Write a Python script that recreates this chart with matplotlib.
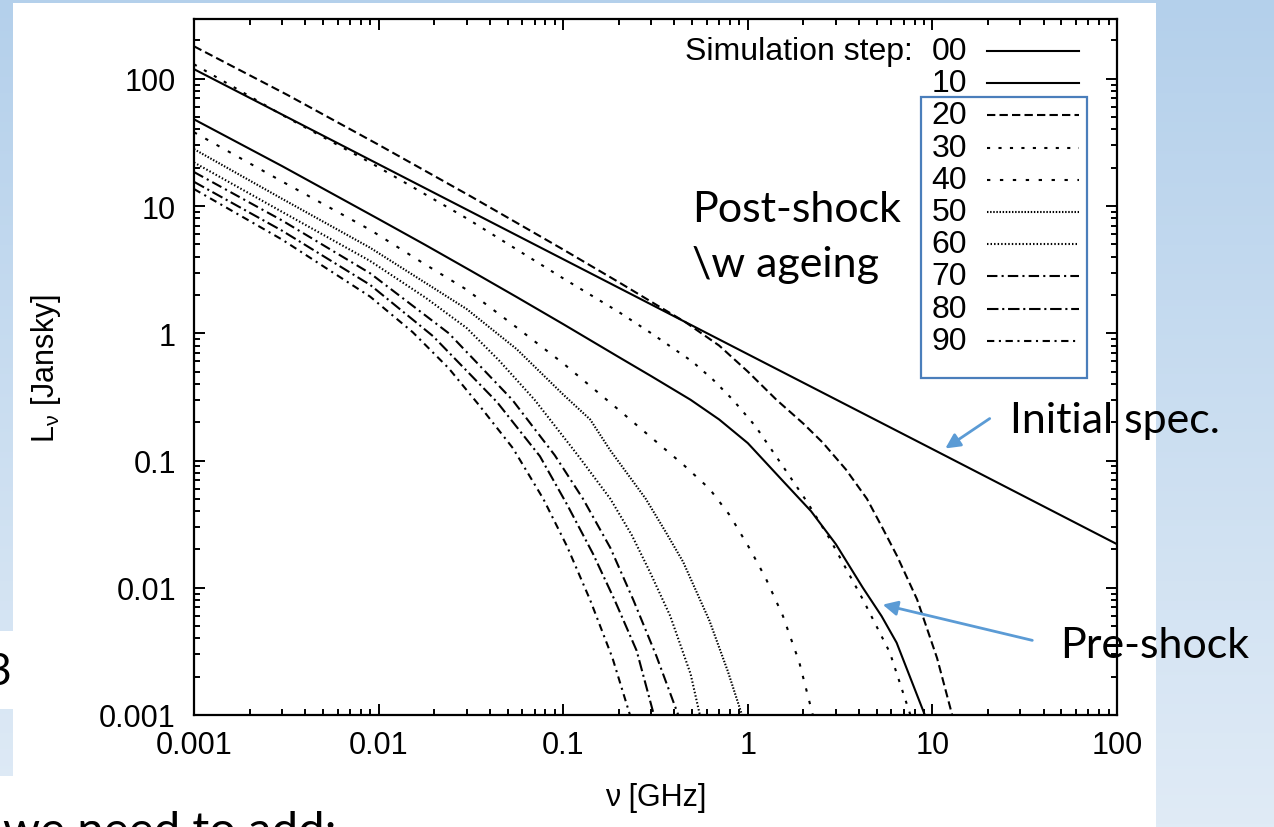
import numpy as np
import matplotlib
matplotlib.use('Agg')
import matplotlib.pyplot as plt
from matplotlib.patches import Rectangle, FancyArrowPatch
from matplotlib.lines import Line2D
from matplotlib.ticker import LogLocator, FuncFormatter, NullFormatter

W, H = 1274, 828

# spectra: nu [GHz] -> L_nu [Jy]
steps = ['00', '10', '20', '30', '40', '50', '60', '70', '80', '90']

nu_00 = [0.001, 0.01, 0.1, 1, 10, 100]
L_00 = [119, 21.3, 3.82, 0.685, 0.123, 0.022]

nu_10 = [0.001, 0.003, 0.01, 0.0178, 0.0316, 0.0562, 0.1, 0.2, 0.3, 0.49, 0.7, 1.0,
         1.55, 2.2, 3.0, 4.2, 5.3, 6.4, 9.1]
L_10 = [48, 20.6, 7.9, 4.97, 3.1, 1.92, 1.18, 0.65, 0.46, 0.30, 0.21, 0.137,
        0.069, 0.040, 0.022, 0.0100, 0.0060, 0.0037, 0.001]

nu_20 = [0.001, 0.0032, 0.01, 0.0316, 0.1, 0.2, 0.316, 0.46, 0.7, 1.0, 1.43, 2.0,
         2.55, 3.4, 4.42, 5.4, 6.43, 8.26, 10.6, 12.8]
L_20 = [180, 74.8, 30.3, 11.9, 4.55, 2.52, 1.69, 1.22, 0.80, 0.50, 0.30, 0.195,
        0.138, 0.085, 0.05, 0.029, 0.0178, 0.0081, 0.0028, 0.001]

nu_30 = [0.001, 0.003, 0.009, 0.03, 0.1, 0.2, 0.3, 0.5, 0.65, 0.83, 1.1, 1.55,
         2.1, 2.79, 4.2, 5.88, 7.6]
L_30 = [130, 52, 22, 8.0, 2.7, 1.47, 1.0, 0.6, 0.43, 0.30, 0.186, 0.090,
        0.047, 0.024, 0.0081, 0.0031, 0.001]

nu_40 = [0.001, 0.003, 0.009, 0.0178, 0.03, 0.056, 0.1, 0.2, 0.32, 0.45, 0.62, 0.8,
         1.03, 1.25, 1.55, 1.9, 2.25]
L_40 = [38, 15.6, 6.5, 3.49, 2.2, 1.11, 0.58, 0.25, 0.14, 0.092, 0.06, 0.037,
        0.020, 0.0119, 0.006, 0.0026, 0.001]

nu_50 = [0.001, 0.003, 0.009, 0.03, 0.056, 0.1, 0.14, 0.18, 0.28, 0.36, 0.446,
         0.62, 0.78, 0.93]
L_50 = [28, 11.4, 4.7, 1.55, 0.75, 0.33, 0.21, 0.12, 0.05, 0.0273, 0.016,
        0.0055, 0.0022, 0.001]

nu_60 = [0.001, 0.003, 0.009, 0.018, 0.03, 0.045, 0.07, 0.12, 0.18, 0.235, 0.295,
         0.38, 0.49, 0.55]
L_60 = [22, 9.0, 3.7, 1.9, 1.1, 0.61, 0.30, 0.11, 0.05, 0.026, 0.0133,
        0.006, 0.0021, 0.001]

nu_70 = [0.001, 0.003, 0.009, 0.024, 0.053, 0.09, 0.128, 0.18, 0.24, 0.32, 0.42]
L_70 = [18.5, 7.7, 2.96, 1.0, 0.30, 0.11, 0.05, 0.0206, 0.008, 0.0029, 0.001]

nu_80 = [0.001, 0.003, 0.009, 0.0197, 0.0438, 0.0748, 0.105, 0.145, 0.19, 0.25, 0.31]
L_80 = [15.5, 6.4, 2.4, 0.95, 0.288, 0.108, 0.045, 0.0185, 0.008, 0.0032, 0.001]

nu_90 = [0.001, 0.003, 0.009, 0.0153, 0.024, 0.0354, 0.0534, 0.078, 0.105, 0.14,
         0.185, 0.23]
L_90 = [13.6, 5.45, 1.94, 1.02, 0.53, 0.267, 0.125, 0.05, 0.0211, 0.008,
        0.0028, 0.001]

nus = [nu_00, nu_10, nu_20, nu_30, nu_40, nu_50, nu_60, nu_70, nu_80, nu_90]
Ls = [L_00, L_10, L_20, L_30, L_40, L_50, L_60, L_70, L_80, L_90]

# gnuplot-like dash patterns
styles = ['-', '-', (0, (4, 2)), (0, (1.5, 4)), (0, (1.6, 4.6)),
          (0, (0.7, 0.8)), (0, (0.7, 1.0)),
          (0, (5, 2, 1, 2)), (0, (5.5, 1.8, 1, 1.8)), (0, (3.5, 2.2, 1, 2.2))]

plt.rcParams['font.family'] = ['Liberation Sans', 'DejaVu Sans']
plt.rcParams['mathtext.fontset'] = 'custom'
plt.rcParams['mathtext.rm'] = 'Liberation Sans'

fig = plt.figure(figsize=(W / 100, H / 100), dpi=100)


def fx(px):
    return px / W


def fy(py):
    return 1 - py / H


# slide background (light blue gradient) + white picture area
bg = fig.add_axes([0, 0, 1, 1], zorder=-10)
grad = np.linspace(0, 1, 256).reshape(-1, 1)
c_top = np.array([180, 208, 235]) / 255
c_bot = np.array([224, 235, 246]) / 255
img = c_top + grad[..., None] * (c_bot - c_top)
bg.imshow(img, aspect='auto', extent=[0, 1, 0, 1], origin='upper')
bg.set_xlim(0, 1)
bg.set_ylim(0, 1)
bg.axis('off')
bg.add_patch(Rectangle((fx(13), 0), fx(1156) - fx(13), fy(4), color='white', lw=0))
bg.add_patch(Rectangle((0, fy(710)), fx(14), fy(632) - fy(710), color='white', lw=0))
bg.add_patch(Rectangle((0, 0), fx(14), fy(777), color='white', lw=0))

ax = fig.add_axes([fx(194), fy(716), fx(1117) - fx(194), fy(20) - fy(716)])
ax.set_facecolor('white')

for nu, L, ls in zip(nus, Ls, styles):
    ax.plot(nu, L, color='black', lw=1.5, linestyle=ls)

ax.set_xscale('log')
ax.set_yscale('log')
ax.set_xlim(0.001, 100)
ax.set_ylim(0.001, 295)

fmt = FuncFormatter(lambda v, p: '%g' % v)
for axis in (ax.xaxis, ax.yaxis):
    axis.set_major_locator(LogLocator(base=10))
    axis.set_minor_locator(LogLocator(base=10, subs=np.arange(2, 10)))
    axis.set_major_formatter(fmt)
    axis.set_minor_formatter(NullFormatter())

ax.tick_params(which='both', direction='in', top=True, right=True, width=1.4,
               labelsize=22, colors='black')
ax.tick_params(which='major', length=8)
ax.tick_params(which='minor', length=4)
ax.tick_params(axis='y', pad=13)
ax.tick_params(axis='x', pad=11)
for sp in ax.spines.values():
    sp.set_linewidth(1.6)

ax.set_xlabel('ν [GHz]', fontsize=22)
ax.xaxis.set_label_coords(0.5, (716 - 783) / 696)
ax.set_ylabel(r'L$_\mathregular{\nu}$ [Jansky]', fontsize=22)
ax.yaxis.set_label_coords((63 - 194) / 923, 0.5)

# legend drawn like gnuplot's key
fig.text(fx(913), fy(52), 'Simulation step:', ha='right', va='center', fontsize=23)
for i, (s, ls) in enumerate(zip(steps, styles)):
    yy = fy(52 + 32.2 * i)
    fig.text(fx(967), yy, s, ha='right', va='center', fontsize=23)
    fig.add_artist(Line2D([fx(987), fx(1079)], [yy, yy], color='black', lw=1.5,
                          linestyle=ls, transform=fig.transFigure))

# slide overlays
blue_box = '#4a7ebb'
fig.add_artist(Rectangle((fx(921), fy(379)), fx(1087) - fx(921), fy(98) - fy(379),
                         fill=False, edgecolor=blue_box, lw=1.6, transform=fig.transFigure))

slide_font = ['Lato', 'DejaVu Sans']
fig.text(fx(692), fy(222), 'Post-shock', fontsize=31, family=slide_font, va='baseline')
fig.text(fx(692), fy(277), '\\w ageing', fontsize=31, family=slide_font, va='baseline')
fig.text(fx(1010), fy(433), 'Initial spec.', fontsize=31, family=slide_font, va='baseline')
fig.text(fx(1060), fy(658), 'Pre-shock', fontsize=31, family=slide_font, va='baseline')
fig.text(fx(11), fy(685), '3', fontsize=32, family=slide_font, va='baseline', ha='right')
fig.text(fx(3), fy(845), 'we need to add:', fontsize=34, family=slide_font, va='baseline')

arrow_c = '#5b9bd5'
for (x0, y0), (x1, y1) in [((992, 418), (943, 451)), ((1035, 642), (880, 605))]:
    fig.add_artist(FancyArrowPatch((fx(x0), fy(y0)), (fx(x1), fy(y1)),
                                   transform=fig.transFigure, arrowstyle='-|>',
                                   mutation_scale=22, color=arrow_c, lw=2))

fig.savefig('out.png', dpi=100)
